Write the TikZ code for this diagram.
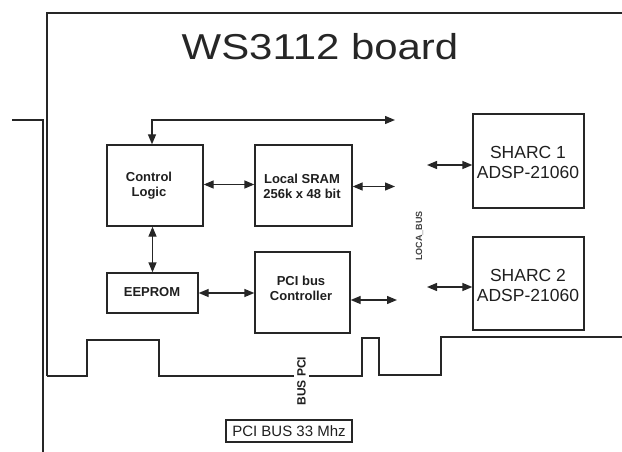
\documentclass[tikz,border=0pt]{standalone}
\usepackage{fontspec}
\setmainfont{Liberation Sans}
\usetikzlibrary{arrows.meta}
\begin{document}
\begin{tikzpicture}[x=1pt,y=-1pt,
  ln/.style={draw=black!85, line width=1.3pt},
  box/.style={draw=black!85, line width=1.3pt, inner sep=0pt},
  lbl/.style={font=\fontsize{13}{15}\selectfont\bfseries, align=center, text=black!88, inner sep=0pt},
  sharc/.style={font=\fontsize{17.5}{20}\selectfont, align=center, text=black!88, inner sep=0pt},
  biarrow/.style={draw=black!85, line width=1.3pt, {Triangle[length=10pt,width=8pt]}-{Triangle[length=10pt,width=8pt]}},
]
\useasboundingbox (0,0) rectangle (622,452);

% bracket and board outline
\draw[ln, line width=1.5pt] (12,120) -- (43,120) -- (43,452);
\draw[ln] (47,376) -- (47,13) -- (622,13);
\draw[ln] (47,376) -- (87,376) -- (87,340) -- (159,340) -- (159,376) -- (362,376)
  -- (362,338) -- (379,338) -- (379,375) -- (441,375) -- (441,337) -- (622,337);

% title
\node[anchor=base, inner sep=0pt, text=black!85, font=\fontsize{36}{40}\selectfont] (title) at (320,59.5) {\scalebox{1.165}[1]{WS3112 board}};

% boxes
\node[box, minimum width=96pt, minimum height=81pt] (cl) at (155,185.5) {};
\node[box, minimum width=97pt, minimum height=81pt] (sram) at (303.5,185.5) {};
\node[box, minimum width=91pt, minimum height=40pt] (ee) at (152.5,293) {};
\node[box, minimum width=95pt, minimum height=81pt] (pci) at (302.5,292.5) {};
\node[box, minimum width=111pt, minimum height=94pt] (s1) at (528.5,161) {};
\node[box, minimum width=111pt, minimum height=93pt] (s2) at (528.5,283.5) {};

% box texts
\node[lbl] (cltext) at (149,186) {Control\\Logic};
\node[lbl] (sramtext) at (302,186) {Local SRAM\\256k x 48 bit};
\node[lbl] (eetext) at (152,292.5) {EEPROM};
\node[lbl] (pcitext) at (301,288) {PCI bus\\Controller};
\node[sharc] (s1text) at (528,162.5) {SHARC 1\\ADSP-21060};
\node[sharc] (s2text) at (528,285) {SHARC 2\\ADSP-21060};

% connectors
\coordinate (topend) at (395,120);
\coordinate (topcorner) at (152,120);
\draw[biarrow] (topend) -- (topcorner) -- (topcorner |- cl.north);
\draw[biarrow] (cl.south -| ee.north) -- (ee.north);
\draw[biarrow] ([yshift=1pt]cl.east) -- ([yshift=1pt]sram.west);
\coordinate (b1) at (395,186.5);
\draw[biarrow] (sram.east |- b1) -- (b1);
\draw[biarrow] (ee.east) -- (ee.east -| pci.west);
\coordinate (b2) at (397,300);
\draw[biarrow] (pci.east |- b2) -- (b2);
\coordinate (b3) at (427,165);
\draw[biarrow] (b3) -- (b3 -| s1.west);
\coordinate (b4) at (427,287);
\draw[biarrow] (b4) -- (b4 -| s2.west);

% bus labels
\node[rotate=90, fill=white, inner sep=3.5pt, text=black!88, font=\fontsize{12}{14}\selectfont\bfseries] (buspci) at (301.5,381) {BUS PCI};
\node[rotate=90, inner sep=0pt, text=black!75, font=\fontsize{9}{11}\selectfont\bfseries] (localbus) at (419.5,236) {LOCA\_BUS};

% PCI bus speed box
\node[box, minimum width=126pt, minimum height=22pt, text=black!88, font=\fontsize{15}{17}\selectfont] (pcibus) at (289,431) {PCI BUS 33 Mhz};
\end{tikzpicture}
\end{document}
